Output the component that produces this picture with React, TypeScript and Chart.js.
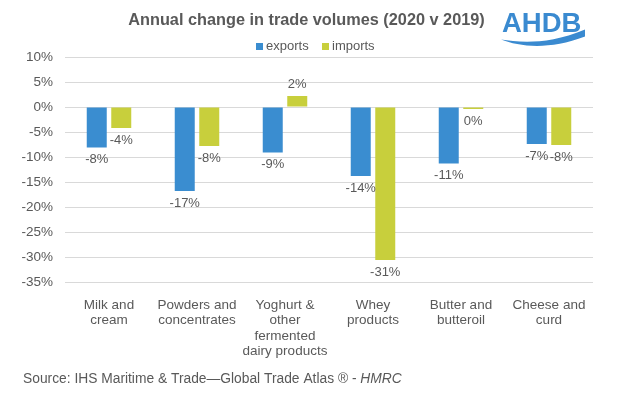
import React, { useEffect, useRef } from "react";
import { Chart, registerables } from "chart.js";

Chart.register(...registerables);

const categories: string[][] = [
  ["Milk and", "cream"],
  ["Powders and", "concentrates"],
  ["Yoghurt &", "other", "fermented", "dairy products"],
  ["Whey", "products"],
  ["Butter and", "butteroil"],
  ["Cheese and", "curd"],
];
const exportsValues = [-8.1, -16.8, -9.1, -13.8, -11.3, -7.4];
const importsValues = [-4.2, -7.8, 2.2, -30.6, -0.4, -7.6];
const seriesNames = ["exports", "imports"];
const yMin = -35;
const yMax = 10;
const yStep = 5;
const titleText = "Annual change in trade volumes (2020 v 2019)";
const sourceText = "Source: IHS Maritime & Trade\u2014Global Trade Atlas \u00AE - ";
const sourceItalic = "HMRC";

const BLUE = "#3A8DD0";
const GREEN = "#C8CF3C";
const GREY = "#595959";
const FONT = "'Liberation Sans', Arial, sans-serif";

const decorPlugin = {
  id: "decor",
  afterDraw(chart: any) {
    const ctx = chart.ctx as CanvasRenderingContext2D;
    ctx.save();
    // title
    ctx.fillStyle = GREY;
    ctx.font = `bold 16.3px ${FONT}`;
    ctx.textAlign = "center";
    ctx.textBaseline = "middle";
    ctx.fillText(titleText, 306.5, 21);

    // legend
    ctx.font = `13px ${FONT}`;
    ctx.textAlign = "left";
    const legendX = [256, 322];
    const colors = [BLUE, GREEN];
    seriesNames.forEach((n, i) => {
      ctx.fillStyle = colors[i];
      ctx.fillRect(legendX[i], 43, 7, 7);
      ctx.fillStyle = GREY;
      ctx.fillText(n, legendX[i] + 10, 46.5);
    });

    // data labels
    ctx.font = `13px ${FONT}`;
    ctx.textAlign = "center";
    ctx.fillStyle = GREY;
    chart.data.datasets.forEach((ds: any, di: number) => {
      const meta = chart.getDatasetMeta(di);
      meta.data.forEach((el: any, i: number) => {
        const v = ds.data[i] as number;
        const r = Math.round(v);
        const label = (r === 0 ? "0" : String(r)) + "%";
        const y = v >= 0 ? el.y - 12 : el.y + 12;
        ctx.fillText(label, el.x, y);
      });
    });

    // source
    ctx.textAlign = "left";
    ctx.font = `13.8px ${FONT}`;
    ctx.fillStyle = GREY;
    ctx.fillText(sourceText, 23, 379);
    const w = ctx.measureText(sourceText).width;
    ctx.font = `italic 13.8px ${FONT}`;
    ctx.fillText(sourceItalic, 23 + w, 379);

    // logo
    ctx.fillStyle = "#3A8AD0";
    ctx.font = `bold 27.5px ${FONT}`;
    ctx.textBaseline = "alphabetic";
    ctx.fillText("AHDB", 502, 32);
    ctx.beginPath();
    ctx.moveTo(501, 39.5);
    ctx.bezierCurveTo(520, 42.5, 548, 45, 585, 29.5);
    ctx.lineTo(585, 36.5);
    ctx.bezierCurveTo(550, 50, 520, 47, 501, 39.5);
    ctx.closePath();
    ctx.fill();
    ctx.restore();
  },
};

export default function App() {
  const ref = useRef<HTMLCanvasElement | null>(null);
  useEffect(() => {
    if (!ref.current) return;
    const chart = new Chart(ref.current, {
      type: "bar",
      data: {
        labels: categories as any,
        datasets: [
          {
            label: seriesNames[0],
            data: exportsValues,
            backgroundColor: BLUE,
            categoryPercentage: 0.557,
            barPercentage: 0.816,
          },
          {
            label: seriesNames[1],
            data: importsValues,
            backgroundColor: GREEN,
            categoryPercentage: 0.557,
            barPercentage: 0.816,
          },
        ],
      },
      options: {
        responsive: false,
        animation: false,
        devicePixelRatio: 1,
        layout: { padding: { top: 57, right: 32, left: 0, bottom: 0 } },
        plugins: {
          legend: { display: false },
          tooltip: { enabled: false },
          title: { display: false },
        },
        scales: {
          x: {
            grid: { display: false },
            border: { display: false },
            ticks: {
              color: GREY,
              font: { size: 13.5, family: FONT, lineHeight: 1.12 },
              padding: 8,
              maxRotation: 0,
              autoSkip: false,
            },
            afterFit(scale: any) {
              scale.height = 396 - 282;
            },
          },
          y: {
            min: yMin,
            max: yMax,
            ticks: {
              stepSize: yStep,
              color: GREY,
              font: { size: 13.5, family: FONT },
              padding: 12,
              callback: (v: any) => `${v}%`,
            },
            grid: { color: "#D9D9D9", drawTicks: false },
            border: { display: false },
            afterFit(scale: any) {
              scale.width = 65;
            },
          },
        },
      },
      plugins: [decorPlugin],
    });
    return () => chart.destroy();
  }, []);
  return (
    <div style={{ position: "absolute", left: 0, top: 0, width: 625, height: 396, background: "#fff" }}>
      <canvas ref={ref} width={625} height={396} />
    </div>
  );
}
